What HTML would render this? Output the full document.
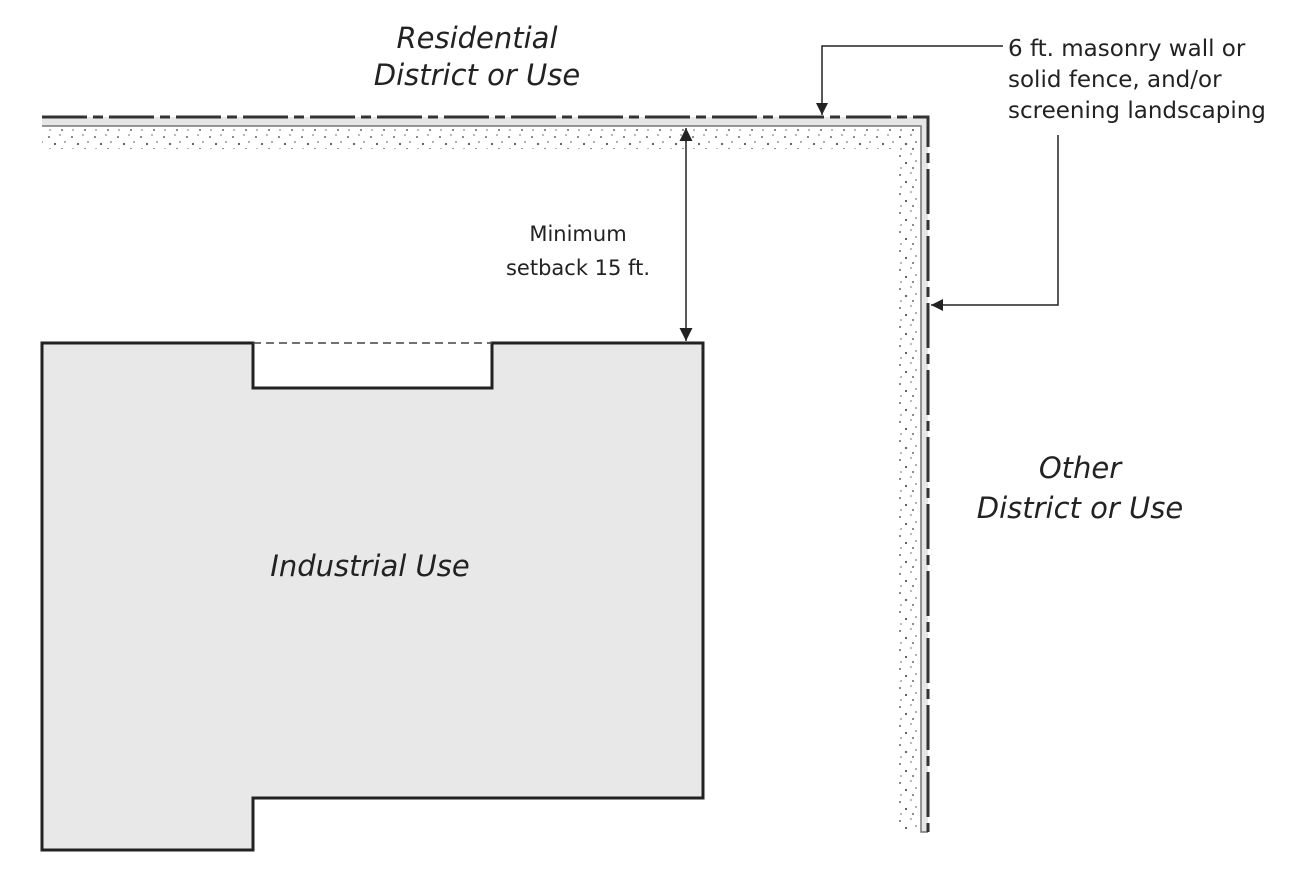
<!DOCTYPE html>
<html><head><meta charset="utf-8"><style>html,body{margin:0;padding:0;background:#fff}svg{display:block}</style></head>
<body>
<svg width="1305" height="875" viewBox="0 0 1305 875" xmlns="http://www.w3.org/2000/svg">
<defs>
<pattern id="st" width="23" height="19" patternUnits="userSpaceOnUse">
<circle cx="3" cy="4" r="1" fill="#666"/><circle cx="14" cy="2" r="0.9" fill="#888"/>
<circle cx="9" cy="11" r="1.1" fill="#555"/><circle cx="19" cy="9" r="0.9" fill="#777"/>
<circle cx="4" cy="16" r="0.9" fill="#888"/><circle cx="16" cy="16" r="1" fill="#666"/>
</pattern>
<marker id="ah" viewBox="0 0 10 10" refX="10" refY="5" markerWidth="12" markerHeight="12" markerUnits="userSpaceOnUse" orient="auto">
<path d="M0,0 L10,5 L0,10 z" fill="#222"/></marker>
<marker id="ah2" viewBox="0 0 10 10" refX="10" refY="5" markerWidth="13" markerHeight="13" markerUnits="userSpaceOnUse" orient="auto-start-reverse">
<path d="M0,0 L10,5 L0,10 z" fill="#222"/></marker>
</defs>
<rect x="42" y="128" width="879" height="21" fill="url(#st)"/>
<rect x="897" y="128" width="24" height="703" fill="url(#st)"/>
<path d="M42,117 H928 V832 H921 V126 H42 Z" fill="#e6e6e6" stroke="none"/>
<path d="M42,126 H921 V832 H928" fill="none" stroke="#777" stroke-width="1.5"/>
<path d="M42,117 H928 V832" fill="none" stroke="#333" stroke-width="3" stroke-dasharray="45,6,10,6"/>
<path d="M42,343 H253 V388 H492 V343 H703 V798 H253 V850 H42 Z" fill="#e8e8e8" stroke="#222" stroke-width="3"/>
<line x1="253" y1="343" x2="492" y2="343" stroke="#444" stroke-width="1.5" stroke-dasharray="8,5"/>
<path d="M1003,46 H822 V115" fill="none" stroke="#222" stroke-width="1.5" marker-end="url(#ah)"/>
<path d="M1058,135 V305 H931" fill="none" stroke="#222" stroke-width="1.5" marker-end="url(#ah)"/>
<line x1="686" y1="128" x2="686" y2="341" stroke="#222" stroke-width="1.5" marker-start="url(#ah2)" marker-end="url(#ah2)"/>
<g font-family="'DejaVu Sans', 'Liberation Sans', sans-serif" fill="#222">
<g font-style="italic" font-size="29" text-anchor="middle">
<text x="477" y="48">Residential</text>
<text x="477" y="85">District or Use</text>
<text x="1080" y="478">Other</text>
<text x="1080" y="518">District or Use</text>
<text x="370" y="576">Industrial Use</text>
</g>
<g font-size="23">
<text x="1008" y="56">6 ft. masonry wall or</text>
<text x="1008" y="87">solid fence, and/or</text>
<text x="1008" y="118">screening landscaping</text>
</g>
<g font-size="21">
<text x="578" y="241" text-anchor="middle">Minimum</text>
<text x="578" y="275" text-anchor="middle">setback 15 ft.</text>
</g>
</g>
</svg>
</body></html>
